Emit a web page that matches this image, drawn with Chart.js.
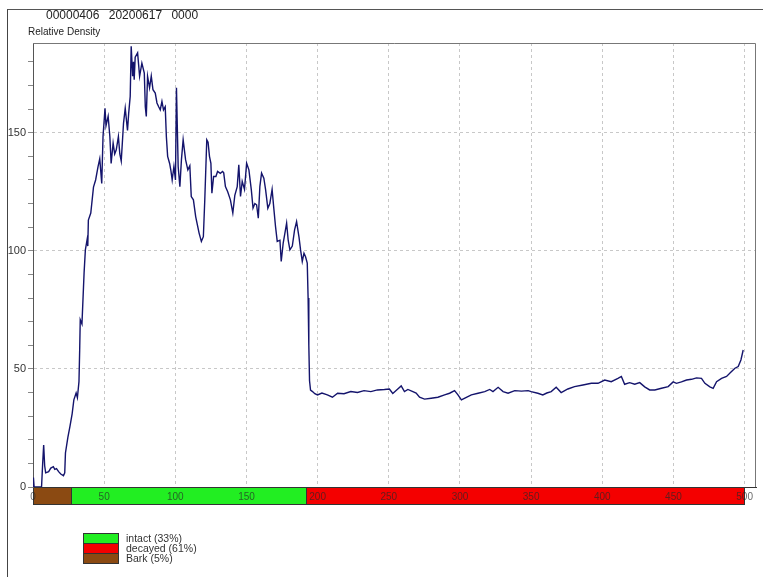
<!DOCTYPE html>
<html>
<head>
<meta charset="utf-8">
<script src="https://cdn.jsdelivr.net/npm/chart.js@4/dist/chart.umd.min.js"></script>
<style>
  body { margin: 0; background: #fff; font-family: "Liberation Sans", Arial, sans-serif; }
  #wrap { position: relative; width: 763px; height: 577px; overflow: hidden; }
  #frame { position: absolute; left: 7px; top: 9px; width: 800px; height: 700px; border-left: 1px solid #444; border-top: 1px solid #555; }
  #header { position: absolute; left: 46px; top: 9px; font-size: 12px; line-height: 12px; color: #222; word-spacing: 6px; white-space: pre; }
  #ylabel { position: absolute; left: 28px; top: 27px; font-size: 10px; line-height: 10px; color: #222; }
  #legend { position: absolute; left: 83px; top: 533px; }
  .row { height: 10px; display: flex; align-items: center; }
  .box { width: 34px; height: 9px; border: 1px solid #333; border-bottom: none; }
  .row:last-child .box { border-bottom: 1px solid #333; height: 9px; }
  .lab { margin-left: 7px; font-size: 10.5px; color: #333; line-height: 10px; }
  canvas { position: absolute; left: 0; top: 0; }
</style>
</head>
<body>
<div id="wrap">
  <canvas id="profile" width="763" height="577"></canvas>
  <div id="frame"></div>
  <div id="header">00000406 20200617 0000</div>
  <div id="ylabel">Relative Density</div>
  <div id="legend"></div>
</div>
<script>
// drilling depth (mm) and relative density
const depth = [
  0, 0.3, 0.8, 6, 6.8, 7.5, 8.2, 8.9, 11, 12.5, 14.3, 15.3, 16.5, 18, 19.5, 21.4, 22.3, 22.8, 24.5, 25.9,
  27.5, 28.7, 30.3, 31.2, 32.3, 32.8, 33.2, 34.4, 35.9, 36.8, 38, 38.5, 38.9, 40.6, 42.5, 44, 45.7, 46.9, 48.3, 49.2,
  50.6, 51.3, 52.8, 54, 54.9, 56.3, 57.4, 58.5, 60, 61, 62, 63.6, 64.8, 66.4, 67.2, 68.3, 69, 70, 70.6, 71.1,
  71.8, 73.5, 74.9, 76.5, 78.2, 78.9, 79.6, 80.5, 81.9, 83.1, 84.3, 85.9, 87.1, 88.3, 89.4, 90.6, 91.7, 92.9, 93.7, 94.6,
  96, 96.9, 97.8, 99, 100.1, 100.8, 102, 103.2, 104.3, 105.5, 107.2, 108.8, 110.2, 111.2, 112.7, 114.3, 115.5, 116.7, 118.3, 119.7,
  120.7, 122.1, 123, 124, 125, 125.7, 126.9, 128.5, 129.7, 131.6, 133.2, 134, 135.2, 136.8, 138.7, 140.4, 141.8, 143.5, 144.6, 145.8,
  147, 148.6, 150.1, 151.7, 153.4, 154.6, 155.9, 157.1, 158.3, 159.4, 160.6, 162.2, 163.4, 165, 166.4, 168, 169.2, 170.4, 171.6, 173.5,
  174.4, 175.8, 177, 178.2, 179.3, 180.5, 182.2, 183.8, 185.2, 186.9, 188, 189.2, 190.4, 191.5, 192.7, 193.3, 193.8, 194.3, 195, 196.4,
  198, 199.9, 203, 206.8, 210.4, 214, 218.5, 223.3, 228, 232.6, 237.4, 242, 246.9, 250.4, 252.8, 256.3, 258.7, 261, 263.4, 266.9,
  269.2, 271.6, 275.1, 279.8, 284.5, 289.2, 292.7, 296.2, 298.6, 301, 304.5, 308, 312.7, 317.4, 320.9, 323.2, 326.8, 330.3, 333.8, 338.5,
  343.2, 347.9, 350, 354.7, 358.2, 361, 364.1, 367.6, 371.1, 375.8, 380.5, 386.4, 392.3, 397, 401.7, 406.3, 411, 413.4, 415.7, 419.2,
  422.8, 426.3, 429.8, 433.3, 436.9, 441.6, 446.3, 449.8, 452.1, 455.6, 459.2, 462.7, 466.2, 469.7, 472.1, 475.6, 477.9, 480.3, 483.8, 487.3,
  490.8, 493.2, 495.5, 497.4, 499
];
const density = [
  0, 4, 0, 0, 10, 17.8, 9, 6, 6.5, 8, 8.6, 7.5, 7.8, 6.5, 5.5, 4.8, 6, 14.4, 21, 25.5,
  31, 36.9, 39.8, 37.8, 44.6, 58, 70.8, 69, 90.7, 100.4, 104.7, 102, 113, 116, 127, 130, 135.7, 139, 128.5, 148.4,
  160.4, 153, 157, 148.4, 137, 145.6, 141, 142.8, 148.4, 141, 138, 154, 160.4, 151, 158, 165.4, 186.6, 173.9, 180, 172.5,
  182, 183.8, 173.9, 179.5, 175.3, 161, 156.9, 173.9, 169, 174, 168.2, 166.8, 162.6, 161, 159.7, 163.3, 159.7, 161, 148.4, 140,
  137, 134, 130, 135.7, 130, 169, 135.7, 127.2, 138.6, 147, 138.6, 134.3, 136, 123, 121.6, 114.5, 111, 107.5, 104, 106,
  121.6, 147, 146, 140, 137, 124.4, 131.5, 131.5, 133.6, 132.8, 133.6, 133, 127.2, 125, 121.6, 116, 123.5, 127.2, 136.4, 123,
  129.4, 126, 137.1, 134.3, 125.8, 118.1, 120, 119.5, 113.8, 127.2, 132.9, 130.8, 126, 118, 120, 126, 118, 110.3, 104, 104.5,
  95.5, 103.3, 107.5, 111.7, 104.5, 100.4, 102, 108.9, 112.4, 105.8, 100.4, 95.5, 99, 97.5, 94.8, 80, 60, 45, 41, 40.4,
  39.5, 39, 39.8, 39, 38, 39.7, 39.5, 40.4, 40, 40.8, 40.4, 41.1, 41.3, 41.5, 39.6, 41.5, 42.8, 40.4, 41.3, 40.4,
  39.8, 38, 37.2, 37.6, 38, 39, 39.7, 40.8, 39, 36.9, 38, 39, 39.7, 40.4, 41.3, 40.4, 42.2, 40.4, 39.7, 40.8,
  40.6, 40.8, 40.4, 39.7, 39, 39.8, 40.4, 42.2, 40, 41.5, 42.5, 43.2, 43.9, 43.9, 45.3, 44.6, 46, 46.8, 43.5, 44.2,
  43.5, 44.2, 42.4, 41.1, 41.1, 41.8, 42.5, 44.5, 43.9, 44.5, 45.3, 45.6, 46.2, 46, 43.9, 42.4, 41.8, 44.6, 46, 46.8,
  48.9, 50.3, 51, 53.8, 58
];

// zones along the drill path
const zoneNames = ['Bark (5%)', 'intact (33%)', 'decayed (61%)'];
const zoneStart = [0, 27, 192];
const zoneEnd = [27, 192, 500];
const zoneColors = ['#8b4a12', '#22ee22', '#f40000'];
const legendOrder = [1, 2, 0];

const xTicks = [0, 50, 100, 150, 200, 250, 300, 350, 400, 450, 500];
const yLabelTicks = [0, 50, 100, 150];

const points = depth.map((d, i) => ({x: d, y: density[i]}));

// legend
const legend = document.getElementById('legend');
legendOrder.forEach(i => {
  const row = document.createElement('div');
  row.className = 'row';
  const box = document.createElement('div');
  box.className = 'box';
  box.style.background = zoneColors[i];
  const lab = document.createElement('span');
  lab.className = 'lab';
  lab.textContent = zoneNames[i];
  row.appendChild(box);
  row.appendChild(lab);
  legend.appendChild(row);
});

const zoneBand = {
  id: 'zoneBand',
  beforeDraw(chart) {
    const ctx = chart.ctx;
    const x = chart.scales.x;
    const top = chart.chartArea.bottom;
    ctx.save();
    zoneStart.forEach((s, i) => {
      const x0 = x.getPixelForValue(s);
      const x1 = x.getPixelForValue(zoneEnd[i]);
      ctx.fillStyle = zoneColors[i];
      ctx.fillRect(x0, top, x1 - x0, 18);
      ctx.strokeStyle = '#333';
      ctx.lineWidth = 1;
      ctx.strokeRect(Math.round(x0) + 0.5, top + 0.5, Math.round(x1 - x0), 17);
    });
    ctx.restore();
  },
  beforeDatasetsDraw(chart) {
    const {ctx, chartArea: a} = chart;
    ctx.save();
    ctx.strokeStyle = '#777';
    ctx.lineWidth = 1;
    ctx.beginPath();
    ctx.moveTo(a.left, a.top + 0.5);
    ctx.lineTo(a.right - 0.5, a.top + 0.5);
    ctx.lineTo(a.right - 0.5, a.bottom);
    ctx.stroke();
    ctx.restore();
  }
};

new Chart(document.getElementById('profile'), {
  type: 'line',
  data: {
    datasets: [{
      data: points,
      borderColor: '#14146c',
      borderWidth: 1.4,
      pointRadius: 0,
      tension: 0,
      fill: false
    }]
  },
  options: {
    responsive: false,
    animation: false,
    devicePixelRatio: 1,
    layout: { padding: { top: 43, right: 7, left: 0, bottom: 0 } },
    plugins: { legend: { display: false }, tooltip: { enabled: false } },
    scales: {
      x: {
        type: 'linear',
        min: 0,
        max: 508,
        afterBuildTicks: s => { s.ticks = xTicks.map(v => ({value: v})); },
        afterFit: s => { s.height = 90; },
        ticks: {
          maxRotation: 0,
          autoSkip: false,
          padding: 4,
          color: 'rgba(40,40,40,0.7)',
          font: { family: 'Liberation Sans', size: 10 }
        },
        grid: {
          drawTicks: false,
          color: c => c.tick && c.tick.value === 0 ? 'transparent' : '#c8c8c8'
        },
        border: { color: '#333', dash: [3, 3] }
      },
      y: {
        min: 0,
        max: 188,
        afterBuildTicks: s => {
          const t = [];
          for (let v = 0; v <= 180; v += 10) t.push({value: v});
          s.ticks = t;
        },
        afterFit: s => { s.width = 33; },
        ticks: {
          padding: 2,
          color: '#333',
          font: { family: 'Liberation Sans', size: 11 },
          callback: v => yLabelTicks.includes(v) ? v : ''
        },
        grid: {
          tickLength: 5,
          tickColor: '#888',
          color: c => c.tick && c.tick.value > 0 && c.tick.value % 50 === 0 ? '#c8c8c8' : 'transparent'
        },
        border: { color: '#555', dash: [3, 3] }
      }
    }
  },
  plugins: [zoneBand]
});
</script>
</body>
</html>
